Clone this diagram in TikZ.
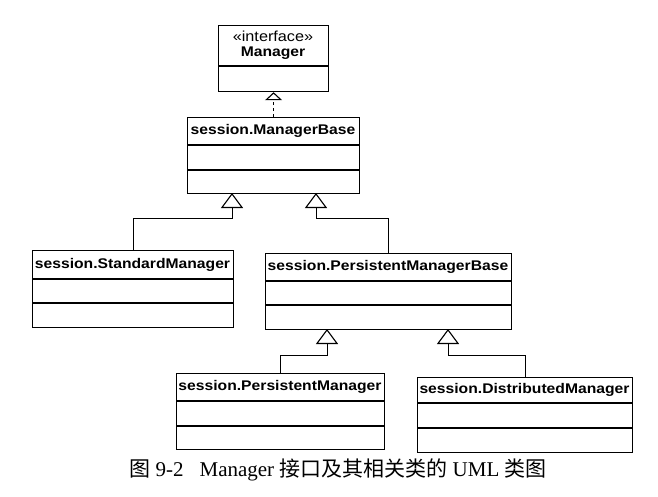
\documentclass[tikz,border=0pt]{standalone}
\usepackage{fontspec}
\setmainfont{Liberation Serif}
\newfontfamily\umlfont[FakeStretch=1.12]{Liberation Sans}
\newfontfamily\cjk{Noto Sans CJK SC}
\usetikzlibrary{arrows.meta}

\tikzset{
  classbox/.style={draw, line width=1.2pt, anchor=north west, inner sep=0pt},
  classname/.style={inner sep=0pt, font=\umlfont\bfseries\fontsize{14}{16}\selectfont},
  inherit/.style={line width=0.9pt, -{Triangle[open, width=22pt, length=15pt, line width=1.1pt]}},
  realize/.style={line width=0.9pt, dash pattern=on 3pt off 3pt, -{Triangle[open, width=17pt, length=8pt, line width=1.1pt]}}
}

\begin{document}
\begin{tikzpicture}[x=1pt, y=-1pt]
  \useasboundingbox (0,0) rectangle (658,496);

  % interface on top
  \node[classbox, minimum width=110pt, minimum height=66pt] (mgr) at (218,25) {};
  \draw[line width=1.2pt] (mgr.north west) ++(0,41) -- ++(110,0);
  \node[inner sep=0pt, font=\umlfont\fontsize{14.5}{16}\selectfont] (mgrst) at (273,36) {«interface»};
  \node[classname] (mgrname) at (273,53) {Manager};

  % abstract base
  \node[classbox, minimum width=172pt, minimum height=76pt] (mb) at (187,117) {};
  \draw[line width=1.2pt] (mb.north west) ++(0,28) -- ++(172,0);
  \draw[line width=1.2pt] (mb.north west) ++(0,53) -- ++(172,0);
  \node[classname] (mbname) at (273,131) {session.ManagerBase};

  % subclasses of the base
  \node[classbox, minimum width=201pt, minimum height=77pt] (sm) at (32,250) {};
  \draw[line width=1.2pt] (sm.north west) ++(0,29) -- ++(201,0);
  \draw[line width=1.2pt] (sm.north west) ++(0,53) -- ++(201,0);
  \node[classname] (smname) at (132.5,264.5) {session.StandardManager};

  \node[classbox, minimum width=246pt, minimum height=76pt] (pmb) at (265,253) {};
  \draw[line width=1.2pt] (pmb.north west) ++(0,28) -- ++(246,0);
  \draw[line width=1.2pt] (pmb.north west) ++(0,52) -- ++(246,0);
  \node[classname] (pmbname) at (388,267) {session.PersistentManagerBase};

  % bottom row
  \node[classbox, minimum width=208pt, minimum height=76pt] (pm) at (176,373) {};
  \draw[line width=1.2pt] (pm.north west) ++(0,28) -- ++(208,0);
  \draw[line width=1.2pt] (pm.north west) ++(0,53) -- ++(208,0);
  \node[classname] (pmname) at (280,387) {session.PersistentManager};

  \node[classbox, minimum width=215pt, minimum height=75pt] (dm) at (417,377) {};
  \draw[line width=1.2pt] (dm.north west) ++(0,26) -- ++(215,0);
  \draw[line width=1.2pt] (dm.north west) ++(0,51) -- ++(215,0);
  \node[classname] (dmname) at (524.5,390) {session.DistributedManager};

  % arrow ends on the parents
  \coordinate (mbL) at (232,193);
  \coordinate (mbR) at (316,193);
  \coordinate (pmbL) at (327,329);
  \coordinate (pmbR) at (448,329);

  % realization and generalizations
  \draw[realize] (mb.north) -- (mgr.south);
  \draw[inherit] (sm.north) -- ++(0,-32) -| (mbL);
  \draw[inherit] (pmb.north) -- ++(0,-35) -| (mbR);
  \draw[inherit] (pm.north) -- ++(0,-18) -| (pmbL);
  \draw[inherit] (dm.north) -- ++(0,-22) -| (pmbR);

  % caption
  \node[font=\fontsize{21}{25}\selectfont] (cap) at (338,470)
    {{\cjk 图} 9-2\hspace{16pt}Manager {\cjk 接口及其相关类的} UML {\cjk 类图}};

\end{tikzpicture}
\end{document}
